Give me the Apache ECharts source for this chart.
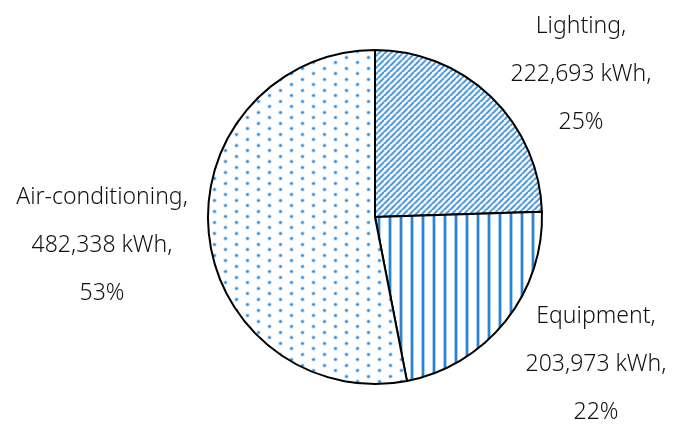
<!DOCTYPE html>
<html>
<head>
<meta charset="utf-8">
<script src="https://cdn.jsdelivr.net/npm/echarts@6/dist/echarts.min.js"></script>
<style>
  html, body { margin: 0; padding: 0; background: #ffffff; }
  #chart { width: 673px; height: 426px; }
</style>
</head>
<body>
<div id="chart"></div>
<script>
// Annual electricity use by end-use category
const categories = ['Lighting', 'Equipment', 'Air-conditioning'];
const energyKWh = [222693, 203973, 482338];
const shareLabels = ['25%', '22%', '53%'];

// Where each category's text block sits (centre of the block)
const labelAnchors = [[581, 74], [596, 364], [102, 245]];

function makeTile(w, h, draw) {
  const c = document.createElement('canvas');
  c.width = w; c.height = h;
  const ctx = c.getContext('2d');
  ctx.fillStyle = '#ffffff';
  ctx.fillRect(0, 0, w, h);
  draw(ctx, w, h);
  return c;
}

// Fine "/" hatching
const diagonalTile = makeTile(6, 6, (ctx, w, h) => {
  const segs = [[-w, h, 0, 0], [0, h, w, 0], [w, h, 2 * w, 0], [-w, 2 * h, w, 0], [0, 2 * h, 2 * w, 0]];
  [[2.6, '#bddcf6'], [1.2, '#3d90dc']].forEach(([lw, col]) => {
    ctx.strokeStyle = col; ctx.lineWidth = lw;
    segs.forEach(s => { ctx.beginPath(); ctx.moveTo(s[0], s[1]); ctx.lineTo(s[2], s[3]); ctx.stroke(); });
  });
});

// Vertical stripes
const verticalTile = makeTile(11, 4, (ctx, w, h) => {
  ctx.fillStyle = '#a9cff1';
  ctx.fillRect(3, 0, 4, h);
  ctx.fillStyle = '#2a84d4';
  ctx.fillRect(4, 0, 2, h);
});

// Staggered dots
const dotTile = makeTile(22, 11, (ctx) => {
  [[5.5, 7.5], [16.5, 2.5]].forEach(([x, y]) => {
    ctx.fillStyle = '#c8e1f7';
    ctx.beginPath(); ctx.arc(x, y, 2.3, 0, Math.PI * 2); ctx.fill();
    ctx.fillStyle = '#2f8ad9';
    ctx.beginPath(); ctx.arc(x, y, 1.3, 0, Math.PI * 2); ctx.fill();
  });
});

const fills = [diagonalTile, verticalTile, dotTile];

const chart = echarts.init(document.getElementById('chart'), null, { renderer: 'canvas' });

chart.setOption({
  animation: false,
  backgroundColor: '#ffffff',
  series: [{
    type: 'pie',
    center: [375, 217],
    radius: 167,
    startAngle: 90,
    clockwise: true,
    avoidLabelOverlap: false,
    emphasis: { disabled: true },
    itemStyle: { borderColor: '#000000', borderWidth: 2 },
    label: {
      show: true,
      position: 'outside',
      fontFamily: 'Noto Sans',
      fontWeight: 300,
      fontSize: 23,
      lineHeight: 48,
      color: '#111111',
      align: 'center',
      formatter: p => p.name + ',\n' + p.value.toLocaleString('en-US') + ' kWh,\n' + shareLabels[p.dataIndex]
    },
    labelLine: { show: false },
    labelLayout: p => ({
      x: labelAnchors[p.dataIndex][0],
      y: labelAnchors[p.dataIndex][1],
      align: 'center',
      verticalAlign: 'middle'
    }),
    data: categories.map((name, i) => ({
      name: name,
      value: energyKWh[i],
      itemStyle: { color: { image: fills[i], repeat: 'repeat' } }
    }))
  }]
});
</script>
</body>
</html>
